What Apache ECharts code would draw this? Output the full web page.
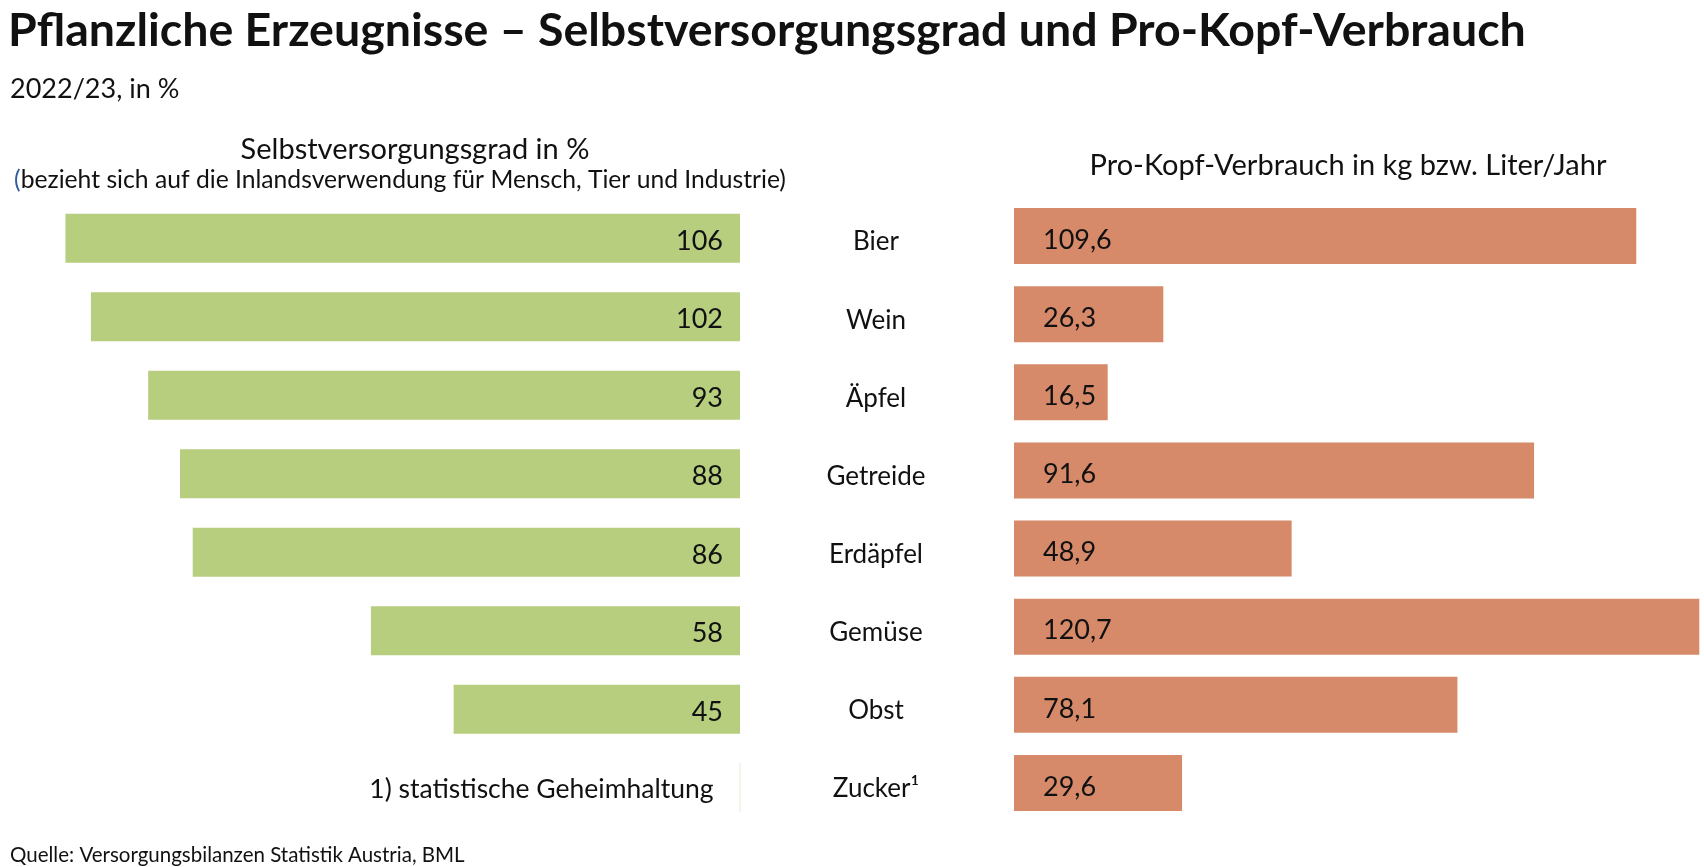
<!DOCTYPE html>
<html><head><meta charset="utf-8">
<script src="https://cdn.jsdelivr.net/npm/echarts@6/dist/echarts.min.js"></script>
<style>html,body{margin:0;padding:0;background:#fff}#c{width:1704px;height:867px}</style>
</head><body><div id="c"></div>
<script>
const categories = ['Bier','Wein','Äpfel','Getreide','Erdäpfel','Gemüse','Obst','Zucker'];
const categoryLabels = ['Bier','Wein','Äpfel','Getreide','Erdäpfel','Gemüse','Obst','Zucker¹'];
const selfSufficiency = [106,102,93,88,86,58,45,null];
const perCapita = [109.6,26.3,16.5,91.6,48.9,120.7,78.1,29.6];
const footnote = '1) statistische Geheimhaltung';

const FONT = 'Lato';
const GREEN = '#b6ce7e';
const ORANGE = '#d68a69';
const fmt = v => String(v).replace('.', ',');

const leftData = selfSufficiency.map(v => v === null ? {
  value: 0,
  itemStyle: {color: GREEN, borderColor: '#eef2e6', borderWidth: 1},
  label: {show: true, position: 'left', distance: 26, fontSize: 26.5, offset: [0, 2], formatter: footnote}
} : v);

const chart = echarts.init(document.getElementById('c'), null, {renderer: 'canvas'});
chart.setOption({
  backgroundColor: '#fff',
  animation: false,
  textStyle: {fontFamily: FONT, color: '#111'},
  title: [
    {text: 'Pflanzliche Erzeugnisse – Selbstversorgungsgrad und Pro-Kopf-Verbrauch', left: 3, top: 2,
     textStyle: {fontFamily: FONT, fontSize: 46.5, fontWeight: 'bold', color: '#111'}},
    {text: '2022/23, in %', left: 5, top: 71, textStyle: {fontFamily: FONT, fontSize: 27, fontWeight: 'normal', color: '#111'}},
    {text: 'Selbstversorgungsgrad in %', left: 410, top: 130, textAlign: 'center',
     textStyle: {fontFamily: FONT, fontSize: 29, fontWeight: 'normal', color: '#111'}},
    {text: '{b|(}bezieht sich auf die Inlandsverwendung für Mensch, Tier und Industrie)', left: 395, top: 163, textAlign: 'center',
     textStyle: {fontFamily: FONT, fontSize: 24.7, fontWeight: 'normal', color: '#111',
       rich: {b: {fontFamily: FONT, fontSize: 24.7, color: '#2f5f9e'}}}},
    {text: 'Pro-Kopf-Verbrauch in kg bzw. Liter/Jahr', left: 1343, top: 146, textAlign: 'center',
     textStyle: {fontFamily: FONT, fontSize: 29, fontWeight: 'normal', color: '#111'}},
    {text: 'Quelle: Versorgungsbilanzen Statistik Austria, BML', left: 5, top: 840,
     textStyle: {fontFamily: FONT, fontSize: 20.5, fontWeight: 'normal', color: '#111'}}
  ],
  grid: [
    {left: 40, width: 700, top: 199, height: 628},
    {left: 1014, width: 687, top: 197, height: 625}
  ],
  xAxis: [
    {gridIndex: 0, type: 'value', min: 0, max: 110, inverse: true, show: false},
    {gridIndex: 1, type: 'value', min: 0, max: 121, show: false}
  ],
  yAxis: [
    {gridIndex: 0, type: 'category', data: categories, inverse: true, show: false},
    {gridIndex: 1, type: 'category', data: categoryLabels, inverse: true,
     axisLine: {show: false}, axisTick: {show: false}, splitLine: {show: false},
     axisLabel: {show: true, margin: 138, align: 'center', fontFamily: FONT, fontSize: 26, color: '#111',
       formatter: v => '{a|' + v + '}',
       rich: {a: {fontFamily: FONT, fontSize: 26, color: '#111', padding: [12, 0, 0, 0]}}}}
  ],
  series: [
    {type: 'bar', xAxisIndex: 0, yAxisIndex: 0, data: leftData, barWidth: 49,
     itemStyle: {color: GREEN},
     label: {show: true, position: 'insideRight', distance: 17, offset: [0, 3], fontFamily: FONT, fontSize: 27, color: '#111',
       formatter: p => fmt(p.value)}},
    {type: 'bar', xAxisIndex: 1, yAxisIndex: 1, data: perCapita, barWidth: 56,
     itemStyle: {color: ORANGE},
     label: {show: true, position: 'insideLeft', distance: 29, offset: [0, 4], fontFamily: FONT, fontSize: 27, color: '#111',
       formatter: p => fmt(p.value)}}
  ]
});
</script></body></html>
